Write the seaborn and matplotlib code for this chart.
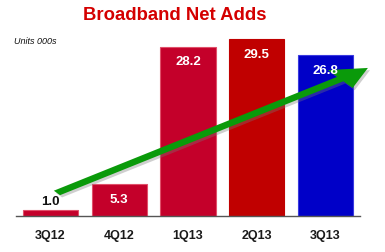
import matplotlib
matplotlib.use("Agg")
import matplotlib.pyplot as plt
import seaborn as sns
import pandas as pd
from matplotlib.patches import FancyArrow

categories = ["3Q12", "4Q12", "1Q13", "2Q13", "3Q13"]
values = [1.0, 5.3, 28.2, 29.5, 26.8]
colors = ["#C4002A", "#C4002A", "#C4002A", "#C00000", "#0000C8"]
edges = ["#E0506A", "#E0506A", "#E0506A", "#C00000", "#3A3AE0"]

sns.set_style("white")
plt.rcParams['font.family'] = ['Liberation Sans', 'DejaVu Sans']

df = pd.DataFrame({"q": categories, "v": values})
fig = plt.figure(figsize=(3.85, 2.52), dpi=100)
ax = fig.add_axes([16/385, 1-216/252, 344/385, 186/252])
sns.barplot(data=df, x="q", y="v", hue="q", palette=colors, legend=False,
            width=0.8, ax=ax, saturation=1)
for p, e in zip(ax.patches, edges):
    p.set_edgecolor(e)
    p.set_linewidth(0.8)

ax.set_xlim(-0.5, 4.5)
ax.set_ylim(0, 31)
ax.set_xlabel("")
ax.set_ylabel("")
ax.set_yticks([])
for s in ["top", "right", "left"]:
    ax.spines[s].set_visible(False)
ax.spines["bottom"].set_color("#555555")
ax.spines["bottom"].set_linewidth(1.0)
ax.tick_params(axis="x", length=0, pad=10)
for lab in ax.get_xticklabels():
    lab.set_fontweight("bold")
    lab.set_fontsize(9)
    lab.set_color("#1a1a1a")

for i, v in enumerate(values):
    if v < 3:
        ax.text(i, v + 0.3, f"{v:.1f}", ha="center", va="bottom",
                fontsize=9.5, fontweight="bold", color="#111111")
    else:
        ax.text(i, v - 1.6, f"{v:.1f}", ha="center", va="top",
                fontsize=9.5, fontweight="bold", color="white")

# green trend arrow
x0, y0 = 0.119, 0.124
x1, y1 = 1.023, 0.796
arr_sh = FancyArrow(x0 + 0.006, y0 - 0.012, (x1 - x0), (y1 - y0), width=0.03,
                    head_width=0.12, head_length=0.1, length_includes_head=True,
                    transform=ax.transAxes, color="#777777", alpha=0.35,
                    clip_on=False, lw=0)
ax.add_patch(arr_sh)
arr = FancyArrow(x0, y0, (x1 - x0), (y1 - y0), width=0.03,
                 head_width=0.12, head_length=0.1, length_includes_head=True,
                 transform=ax.transAxes, color="#0A9A0A", clip_on=False, lw=0)
ax.add_patch(arr)

fig.text(175/385, 1-16/252, "Broadband Net Adds", ha="center", va="center",
         fontsize=13.3, fontweight="bold", color="#D40000")
fig.text(14/385, 1-42/252, "Units 000s", ha="left", va="center",
         fontsize=6.5, fontstyle="italic", color="#111111")

fig.savefig("out.png", dpi=100)
